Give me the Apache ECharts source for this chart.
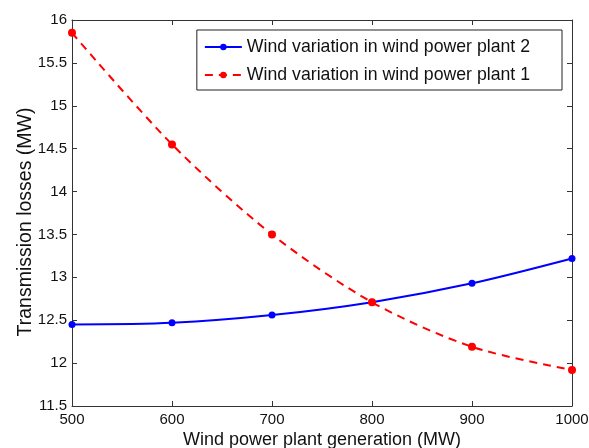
<!DOCTYPE html>
<html><head><meta charset="utf-8">
<script src="https://cdn.jsdelivr.net/npm/echarts@6/dist/echarts.min.js"></script>
<style>html,body{margin:0;padding:0;background:#fff}#c{width:589px;height:448px}</style>
</head><body><div id="c"></div>
<script>
const generation = [500, 600, 700, 800, 900, 1000];
const plant2 = [12.45, 12.47, 12.56, 12.71, 12.93, 13.22];
const plant1 = [15.85, 14.55, 13.50, 12.71, 12.19, 11.92];
const seriesNames = ['Wind variation in wind power plant 2', 'Wind variation in wind power plant 1'];

const font = '"Liberation Sans", Arial, sans-serif';
const axisLine = {show: true, lineStyle: {color: '#333', width: 1}};
const tick = {show: true, inside: true, length: 5, lineStyle: {color: '#333'}};
const chart = echarts.init(document.getElementById('c'), null, {renderer: 'canvas'});
chart.setOption({
  animation: false,
  backgroundColor: '#fff',
  grid: {left: 72, right: 17, top: 20, bottom: 42, containLabel: false, outerBoundsMode: 'none'},
  legend: {
    right: 27, top: 30, orient: 'vertical',
    itemWidth: 37, itemHeight: 8, itemGap: 10,
    padding: [8, 32, 6, 7],
    borderColor: '#222', borderWidth: 1, backgroundColor: '#fff',
    textStyle: {fontFamily: font, fontSize: 17.7, color: '#111'},
    data: seriesNames
  },
  xAxis: [{
    type: 'value', min: 500, max: 1000, interval: 100,
    name: 'Wind power plant generation (MW)', nameLocation: 'middle', nameGap: 25,
    nameMoveOverlap: false,
    nameTextStyle: {fontFamily: font, fontSize: 18, color: '#111'},
    axisLine: axisLine, axisTick: tick, splitLine: {show: false},
    axisLabel: {fontFamily: font, fontSize: 15, color: '#111', margin: 6,
      formatter: v => String(v)}
  }, {
    type: 'value', min: 500, max: 1000, interval: 100, position: 'top',
    axisLine: axisLine, axisTick: tick, splitLine: {show: false}, axisLabel: {show: false}
  }],
  yAxis: [{
    type: 'value', min: 11.5, max: 16, interval: 0.5,
    name: 'Transmission losses (MW)', nameLocation: 'middle', nameGap: 36,
    nameMoveOverlap: false,
    nameTextStyle: {fontFamily: font, fontSize: 19.5, color: '#111', padding: [0, 18, 0, 0]},
    axisLine: axisLine, axisTick: tick, splitLine: {show: false},
    axisLabel: {fontFamily: font, fontSize: 15, color: '#111', margin: 5,
      formatter: v => String(Math.round(v * 10) / 10)}
  }, {
    type: 'value', min: 11.5, max: 16, interval: 0.5, position: 'right',
    axisLine: axisLine, axisTick: tick, splitLine: {show: false}, axisLabel: {show: false}
  }],
  series: [{
    name: seriesNames[0], type: 'line', smooth: 0.3,
    data: generation.map((x, i) => [x, plant2[i]]),
    symbol: 'circle', symbolSize: 7,
    lineStyle: {color: '#0000ff', width: 2},
    itemStyle: {color: '#0000ff'}
  }, {
    name: seriesNames[1], type: 'line', smooth: 0.3,
    data: generation.map((x, i) => [x, plant1[i]]),
    symbol: 'circle', symbolSize: 8,
    lineStyle: {color: '#ff0000', width: 2, type: [8, 6]},
    itemStyle: {color: '#ff0000'}
  }]
});
</script></body></html>
